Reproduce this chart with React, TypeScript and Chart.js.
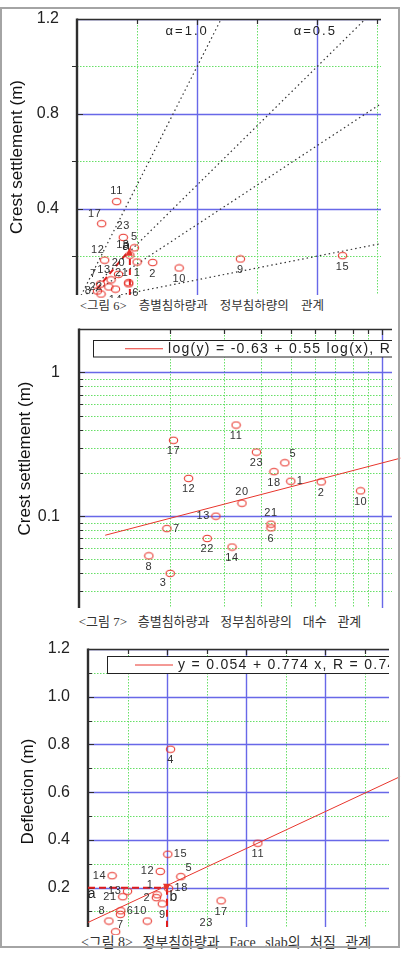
import React, { useEffect, useRef } from "react";
import { Chart, registerables } from "chart.js";

Chart.register(...registerables);

const SANS = "'Liberation Sans', Arial, Helvetica, sans-serif";
const CAPTION_FONT = "'Liberation Serif', 'Noto Sans CJK KR', serif";
const BLUE = "rgba(78,78,228,0.85)";
const GREEN = "rgba(95,222,95,0.95)";
const AXIS = "#2e2e2e";
const RED = "#e8352c";
const TEXT = "#222";

// ---------- Figures 6 & 7: layer settlement (x) vs crest settlement (y), metres ----------
const damIds = ["1", "2", "3", "5", "6", "7", "8", "9", "10", "11", "12", "13", "14", "15", "17", "18", "20", "21", "22", "23"];
const layerSettlement = [0.5, 0.63, 0.2, 0.478, 0.43, 0.195, 0.17, 1.36, 0.85, 0.33, 0.23, 0.283, 0.32, 2.21, 0.205, 0.44, 0.345, 0.43, 0.265, 0.385];
const crestSettlement = [0.175, 0.173, 0.04, 0.235, 0.083, 0.082, 0.053, 0.188, 0.15, 0.43, 0.183, 0.1, 0.061, 0.202, 0.337, 0.204, 0.123, 0.088, 0.07, 0.279];
const fig6LabelSide = ["b", "b", "", "t", "br", "tl", "l", "b", "b", "t", "tl", "tl", "b", "b", "tl", "tl", "t", "tl", "l", "t"];
const fig7LabelSide = ["r", "b", "bl", "tr", "b", "r", "b", "b", "b", "b", "b", "l", "b", "b", "b", "b", "t", "t", "b", "b"];

// alpha reference lines (crest = alpha * layer), end points
const alphaLineX = [[0, 1.2], [0, 2.4], [0, 2.53], [0, 2.53]];
const alphaLineY = [[0, 1.2], [0, 1.2], [0, 0.843], [0, 0.253]];
const alphaNotes = ["α=1.0", "α=0.5"];
const alphaNoteX = [0.917, 1.983];
const alphaNoteY = [1.149, 1.149];

// red dashed guides in fig 6
const fig6GuideX = [[0.164, 0.428], [0.44, 0.44]];
const fig6GuideY = [[0.06, 0.221], [0.036, 0.214]];

// fig 7 regression line log(y) = -0.63 + 0.55 log(x)
const fig7FitX = [0.122, 1.15];
const fig7FitY = [0.0737, 0.253];
const fig7Legend = "log(y) = -0.63 + 0.55 log(x), R";

// ---------- Figure 8: crest settlement (x) vs face slab deflection (y) ----------
const slabIds = ["1", "2", "4", "5", "6", "7", "8", "9", "10", "11", "12", "13", "14", "15", "17", "18", "20", "21", "22", "23"];
const slabCrest = [0.175, 0.173, 0.209, 0.235, 0.083, 0.082, 0.053, 0.188, 0.15, 0.43, 0.183, 0.1, 0.061, 0.202, 0.337, 0.204, 0.123, 0.088, 0.07, 0.279];
const slabDeflection = [0.17, 0.158, 0.78, 0.246, 0.103, 0.088, 0.06, 0.132, 0.06, 0.386, 0.268, 0.185, 0.25, 0.34, 0.145, 0.197, 0.013, 0.162, 0.015, 0.013];
const fig8LabelSide = ["tl", "l", "b", "tr", "r", "b", "tl", "b", "tl", "b", "l", "l", "l", "r", "b", "r", "", "l", "", "tr"];
const fig8FitX = [0, 0.79];
const fig8FitY = [0.054, 0.665];
const fig8Legend = "y = 0.054 + 0.774 x, R = 0.74";
const fig8GuideX = [[0, 0.2], [0.2, 0.2]];
const fig8GuideY = [[0.2, 0.2], [0.2, 0.035]];

// ---------- axis ticks ----------
const fig6XMinor = [0.5, 1.5, 2.5];
const fig6XMajor = [1, 2];
const fig6YMinor = [0.2, 0.6, 1.0];
const fig6YMajor = [0.4, 0.8, 1.2];

const fig7XMinor = [0.2, 0.3, 0.4, 0.5, 0.6, 0.7, 0.8, 0.9];
const fig7XMajor = [1];
const fig7YMinor = [0.03, 0.04, 0.05, 0.06, 0.07, 0.08, 0.09, 0.2, 0.3, 0.4, 0.5, 0.6, 0.7, 0.8, 0.9];
const fig7YMajor = [0.1, 1];

const fig8XMinor = [0.1, 0.3, 0.5, 0.7];
const fig8XMajor = [0.2, 0.4, 0.6];
const fig8YMinor = [0.1, 0.3, 0.5, 0.7, 0.9, 1.1];
const fig8YMajor = [0.2, 0.4, 0.6, 0.8, 1.0, 1.2];

const OFFSETS: Record<string, [number, number, CanvasTextAlign]> = {
  t: [0, -11, "center"],
  b: [0, 11, "center"],
  l: [-6, 0, "right"],
  r: [6, 0, "left"],
  tl: [-7, -10, "center"],
  tr: [8, -9, "center"],
  bl: [-7, 10, "center"],
  br: [7, 9, "center"],
};

type Note = { text: string; x: number; y: number; size: number; spacing: number };
type FigCfg = {
  key: string;
  xMinor: number[];
  xMajor: number[];
  yMinor: number[];
  yMajor: number[];
  minorOut?: boolean;
  title: { text: string; x: number; y: number };
  ids: string[];
  sides: string[];
  notes: Note[];
  legend?: { text: string; dx: number; dy: number; h: number; l0: number; l1: number; tx: number };
  arrow?: { x: number; y: number; dir: "up" | "down" };
};

function pix(scale: any, v: number) {
  return Math.round(scale.getPixelForValue(v)) + 0.5;
}

function figPlugin(cfg: FigCfg) {
  return {
    id: "fig" + cfg.key,
    beforeDatasetsDraw(chart: any) {
      const { ctx, chartArea: a } = chart;
      const xs = chart.scales.x;
      const ys = chart.scales.y;
      ctx.save();
      ctx.beginPath();
      ctx.rect(a.left, a.top, a.right - a.left, a.bottom - a.top);
      ctx.clip();
      ctx.lineWidth = 1;
      ctx.strokeStyle = GREEN;
      ctx.setLineDash([1.5, 1.5]);
      ctx.beginPath();
      cfg.xMinor.forEach((v) => {
        const p = pix(xs, v);
        ctx.moveTo(p, a.top);
        ctx.lineTo(p, a.bottom);
      });
      cfg.yMinor.forEach((v) => {
        const p = pix(ys, v);
        ctx.moveTo(a.left, p);
        ctx.lineTo(a.right, p);
      });
      ctx.stroke();
      ctx.setLineDash([]);
      ctx.strokeStyle = BLUE;
      ctx.lineWidth = 1.4;
      ctx.beginPath();
      cfg.xMajor.forEach((v) => {
        const p = pix(xs, v);
        ctx.moveTo(p, a.top);
        ctx.lineTo(p, a.bottom);
      });
      cfg.yMajor.forEach((v) => {
        const p = pix(ys, v);
        ctx.moveTo(a.left, p);
        ctx.lineTo(a.right, p);
      });
      ctx.stroke();
      ctx.restore();

      // axes and tick marks
      ctx.save();
      ctx.strokeStyle = AXIS;
      ctx.lineWidth = 1.5;
      ctx.beginPath();
      ctx.moveTo(a.left, a.top + 0.5);
      ctx.lineTo(a.right, a.top + 0.5);
      ctx.stroke();
      ctx.lineWidth = 2.4;
      ctx.beginPath();
      ctx.moveTo(a.left, a.top - 0.5);
      ctx.lineTo(a.left, a.bottom);
      ctx.stroke();
      ctx.lineWidth = 1.2;
      ctx.beginPath();
      cfg.xMajor.forEach((v) => {
        const p = pix(xs, v);
        ctx.moveTo(p, a.top);
        ctx.lineTo(p, a.top + 6);
      });
      cfg.xMinor.forEach((v) => {
        const p = pix(xs, v);
        ctx.moveTo(p, a.top);
        ctx.lineTo(p, a.top + 5);
      });
      cfg.yMajor.forEach((v) => {
        const p = pix(ys, v);
        ctx.moveTo(a.left, p);
        ctx.lineTo(a.left + 6, p);
      });
      cfg.yMinor.forEach((v) => {
        const p = pix(ys, v);
        if (cfg.minorOut) {
          ctx.moveTo(a.left - 5, p);
          ctx.lineTo(a.left, p);
        } else {
          ctx.moveTo(a.left, p);
          ctx.lineTo(a.left + 4, p);
        }
      });
      ctx.stroke();
      ctx.restore();
    },
    afterDatasetsDraw(chart: any) {
      const { ctx, chartArea: a } = chart;
      const xs = chart.scales.x;
      const ys = chart.scales.y;
      // point labels
      const meta = chart.getDatasetMeta(0);
      ctx.save();
      ctx.font = `11px ${SANS}`;
      ctx.fillStyle = "#333";
      ctx.textBaseline = "middle";
      (ctx as any).letterSpacing = "0.6px";
      cfg.ids.forEach((id, i) => {
        const side = cfg.sides[i];
        const el = meta.data[i];
        if (!side || !el) return;
        if (el.x < a.left - 3 || el.x > a.right + 3) return;
        const [dx, dy, al] = OFFSETS[side];
        ctx.textAlign = al;
        ctx.fillText(id, el.x + dx, el.y + dy);
      });
      ctx.restore();

      // free notes
      cfg.notes.forEach((n) => {
        ctx.save();
        ctx.font = `${n.size}px ${SANS}`;
        ctx.fillStyle = TEXT;
        ctx.textAlign = "center";
        ctx.textBaseline = "middle";
        (ctx as any).letterSpacing = n.spacing + "px";
        ctx.fillText(n.text, xs.getPixelForValue(n.x), ys.getPixelForValue(n.y));
        ctx.restore();
      });

      // arrow head
      if (cfg.arrow) {
        const px = xs.getPixelForValue(cfg.arrow.x);
        const py = ys.getPixelForValue(cfg.arrow.y);
        ctx.save();
        ctx.fillStyle = RED;
        ctx.beginPath();
        if (cfg.arrow.dir === "up") {
          ctx.moveTo(px, py - 5);
          ctx.lineTo(px - 3.5, py + 3);
          ctx.lineTo(px + 3.5, py + 3);
        } else {
          ctx.moveTo(px, py + 4);
          ctx.lineTo(px - 4, py - 4);
          ctx.lineTo(px + 3, py - 4);
        }
        ctx.closePath();
        ctx.fill();
        ctx.restore();
      }

      // legend box (cut at the right edge of the plot)
      if (cfg.legend) {
        const L = cfg.legend;
        ctx.save();
        ctx.beginPath();
        ctx.rect(0, 0, a.right, chart.height);
        ctx.clip();
        const x0 = a.left + L.dx + 0.5;
        const y0 = a.top + L.dy + 0.5;
        ctx.fillStyle = "#fff";
        ctx.fillRect(x0, y0, 400, L.h);
        ctx.strokeStyle = "#222";
        ctx.lineWidth = 1;
        ctx.strokeRect(x0, y0, 400, L.h);
        ctx.strokeStyle = RED;
        ctx.beginPath();
        ctx.moveTo(a.left + L.l0, y0 + L.h / 2);
        ctx.lineTo(a.left + L.l1, y0 + L.h / 2);
        ctx.stroke();
        ctx.font = `14px ${SANS}`;
        ctx.fillStyle = TEXT;
        ctx.textAlign = "left";
        ctx.textBaseline = "middle";
        (ctx as any).letterSpacing = "1.3px";
        ctx.fillText(L.text, a.left + L.tx, y0 + L.h / 2 + 0.5);
        ctx.restore();
      }

      // axis title
      ctx.save();
      ctx.translate(cfg.title.x, cfg.title.y);
      ctx.rotate(-Math.PI / 2);
      ctx.font = `17px ${SANS}`;
      ctx.fillStyle = "#111";
      ctx.textAlign = "center";
      ctx.textBaseline = "middle";
      ctx.fillText(cfg.title.text, 0, 0);
      ctx.restore();
    },
  };
}

function makeRing(): HTMLCanvasElement {
  const c = document.createElement("canvas");
  c.width = 11;
  c.height = 9;
  const g = c.getContext("2d")!;
  g.strokeStyle = RED;
  g.lineWidth = 1.1;
  g.beginPath();
  g.ellipse(5.5, 4.5, 4.2, 3.2, 0, 0, Math.PI * 2);
  g.stroke();
  return c;
}

function lineSet(xs: number[], ys: number[], color: string, width: number, dash: number[], clip: any) {
  return {
    type: "scatter" as const,
    data: xs.map((x, i) => ({ x, y: ys[i] })),
    showLine: true,
    pointRadius: 0,
    borderColor: color,
    backgroundColor: color,
    borderWidth: width,
    borderDash: dash,
    fill: false,
    clip,
  };
}

function yScale(opts: any, ticks: number[], width: number, pad: number, fmt: (v: number) => string) {
  return {
    ...opts,
    grid: { display: false },
    border: { display: false },
    ticks: {
      font: { family: SANS, size: 16 },
      color: TEXT,
      padding: pad,
      autoSkip: false,
      callback: (v: any) => fmt(Number(v)),
    },
    afterBuildTicks: (s: any) => {
      s.ticks = ticks.map((v) => ({ value: v }));
    },
    afterFit: (s: any) => {
      s.width = width;
      s.paddingTop = 0;
      s.paddingBottom = 0;
    },
  };
}

const baseOptions = {
  animation: false as const,
  responsive: false,
  events: [] as any[],
  plugins: { legend: { display: false }, tooltip: { enabled: false } },
};

export default function App() {
  const r6 = useRef<HTMLCanvasElement>(null);
  const r7 = useRef<HTMLCanvasElement>(null);
  const r8 = useRef<HTMLCanvasElement>(null);

  useEffect(() => {
    const ring = makeRing();

    const c6 = new Chart(r6.current!, {
      type: "scatter",
      data: {
        datasets: [
          {
            label: "Dams",
            data: layerSettlement.map((x, i) => ({ x, y: crestSettlement[i] })),
            pointStyle: ring as any,
            pointRadius: 4,
            clip: false as any,
          },
          ...alphaLineX.map((lx, k) => lineSet(lx, alphaLineY[k], "#333", 1.2, [1.5, 3], 0)),
          ...fig6GuideX.map((gx, k) => lineSet(gx, fig6GuideY[k], "#e01e1e", 2, [6, 4], false)),
        ] as any,
      },
      options: {
        ...baseOptions,
        layout: { padding: { left: 0, top: 19, right: 21, bottom: 3 } },
        scales: {
          x: { type: "linear", display: false, min: 0, max: 2.53 },
          y: yScale({ type: "linear", min: 0.036, max: 1.2 }, fig6YMajor, 77, 10, (v) => v.toFixed(1)),
        },
      } as any,
      plugins: [
        figPlugin({
          key: "6",
          xMinor: fig6XMinor,
          xMajor: fig6XMajor,
          yMinor: fig6YMinor,
          yMajor: fig6YMajor,
          minorOut: true,
          title: { text: "Crest settlement (m)", x: 17, y: 157 },
          ids: damIds,
          sides: fig6LabelSide,
          notes: [
            ...alphaNotes.map((t, i) => ({ text: t, x: alphaNoteX[i], y: alphaNoteY[i], size: 13, spacing: 2 })),
            { text: "a", x: 0.408, y: 0.243, size: 14, spacing: 0 },
          ],
          arrow: { x: 0.436, y: 0.214, dir: "up" },
        }) as any,
      ],
    });

    const c7 = new Chart(r7.current!, {
      type: "scatter",
      data: {
        datasets: [
          {
            label: "Dams",
            data: layerSettlement.map((x, i) => ({ x, y: crestSettlement[i] })),
            pointStyle: ring as any,
            pointRadius: 4,
          },
          lineSet(fig7FitX, fig7FitY, RED, 1, [], false),
        ] as any,
      },
      options: {
        ...baseOptions,
        layout: { padding: { left: 0, top: 15, right: 10, bottom: 6 } },
        scales: {
          x: { type: "logarithmic", display: false, min: 0.1, max: 1.079 },
          y: yScale({ type: "logarithmic", min: 0.023, max: 2 }, fig7YMajor, 79, 11, (v) => String(v)),
        },
      } as any,
      plugins: [
        figPlugin({
          key: "7",
          xMinor: fig7XMinor,
          xMajor: fig7XMajor,
          yMinor: fig7YMinor,
          yMajor: fig7YMajor,
          title: { text: "Crest settlement (m)", x: 25.5, y: 144.5 },
          ids: damIds,
          sides: fig7LabelSide,
          notes: [],
          legend: { text: fig7Legend, dx: 14, dy: 11, h: 16.5, l0: 46, l1: 84, tx: 89 },
        }) as any,
      ],
    });

    const c8 = new Chart(r8.current!, {
      type: "scatter",
      data: {
        datasets: [
          {
            label: "Dams",
            data: slabCrest.map((x, i) => ({ x, y: slabDeflection[i] })),
            pointStyle: ring as any,
            pointRadius: 4,
            clip: false as any,
          },
          lineSet(fig8FitX, fig8FitY, RED, 1, [], false),
          ...fig8GuideX.map((gx, k) => lineSet(gx, fig8GuideY[k], "#e01e1e", 2, [7, 4], false)),
        ] as any,
      },
      options: {
        ...baseOptions,
        layout: { padding: { left: 0, top: 19, right: 13, bottom: 15 } },
        scales: {
          x: { type: "linear", display: false, min: 0, max: 0.762 },
          y: yScale({ type: "linear", min: 0.035, max: 1.2 }, fig8YMajor, 88, 10, (v) => v.toFixed(1)),
        },
      } as any,
      plugins: [
        figPlugin({
          key: "8",
          xMinor: fig8XMinor,
          xMajor: fig8XMajor,
          yMinor: fig8YMinor,
          yMajor: fig8YMajor,
          title: { text: "Deflection (m)", x: 28.3, y: 161.5 },
          ids: slabIds,
          sides: fig8LabelSide,
          notes: [
            { text: "a", x: 0.009, y: 0.173, size: 14, spacing: 0 },
            { text: "b", x: 0.216, y: 0.159, size: 14, spacing: 0 },
          ],
          legend: { text: fig8Legend, dx: 19, dy: 7, h: 17, l0: 47, l1: 85, tx: 90 },
          arrow: { x: 0.2, y: 0.2, dir: "down" },
        }) as any,
      ],
    });

    return () => {
      c6.destroy();
      c7.destroy();
      c8.destroy();
    };
  }, []);

  const cap = (top: number, size: number, ws: number, text: string, shift: number) => (
    <div
      style={{
        position: "absolute",
        left: shift,
        top,
        width: 402,
        height: 16,
        lineHeight: "16px",
        background: "#fff",
        textAlign: "center",
        whiteSpace: "pre",
        fontFamily: CAPTION_FONT,
        fontSize: size,
        wordSpacing: ws,
        color: "#333",
      }}
    >
      {text}
    </div>
  );

  return (
    <div style={{ position: "absolute", left: 0, top: 0, width: 402, height: 962, background: "#fff", overflow: "hidden" }}>
      <canvas ref={r6} width={402} height={300} style={{ position: "absolute", left: 0, top: 0 }} />
      <canvas ref={r7} width={402} height={300} style={{ position: "absolute", left: 0, top: 314 }} />
      <canvas ref={r8} width={402} height={312} style={{ position: "absolute", left: 0, top: 630 }} />
      {cap(298, 12.5, 9, "<그림\u20056> 층별침하량과 정부침하량의 관계", 1)}
      {cap(614, 13, 7.5, "<그림\u20057> 층별침하량과 정부침하량의 대수 관계", 19)}
      {cap(935, 14, 6, "<그림\u20058> 정부침하량과 Face slab의 처짐 관계", 25)}
      <div
        style={{
          position: "absolute",
          left: 0,
          top: 7,
          width: 400,
          height: 941,
          border: "2px solid #a4a4a4",
          boxSizing: "border-box",
          pointerEvents: "none",
        }}
      />
    </div>
  );
}
